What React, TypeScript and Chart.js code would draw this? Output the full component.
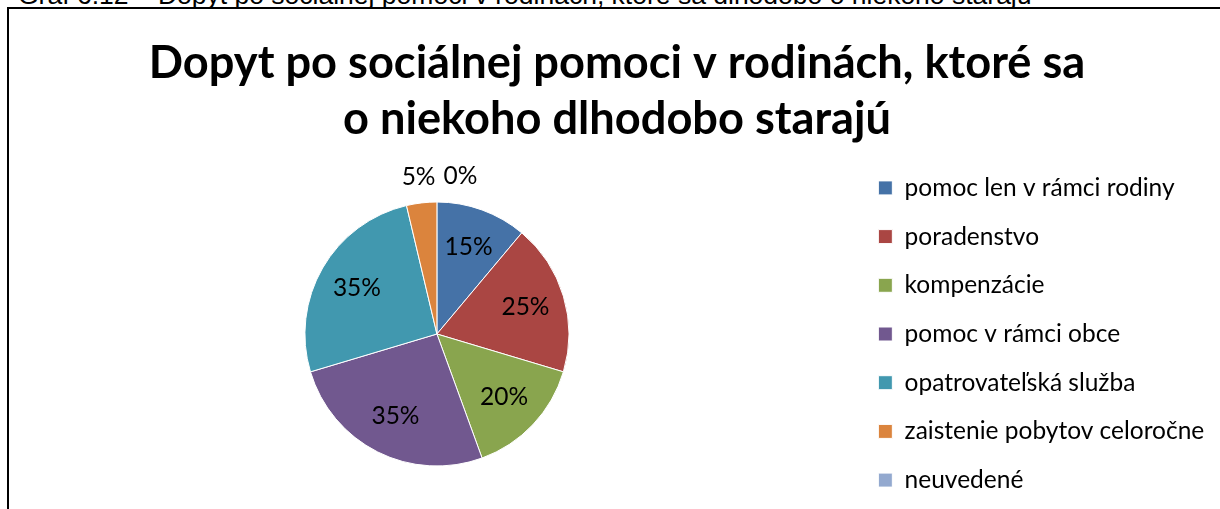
import React, { useEffect, useRef } from "react";
import { Chart, registerables } from "chart.js";

Chart.register(...registerables);

const CAPTION = "Graf 6.12 – Dopyt po sociálnej pomoci v rodinách, ktoré sa dlhodobo o niekoho starajú";
const TITLE_LINES = ["Dopyt po sociálnej pomoci v rodinách, ktoré sa", "o niekoho dlhodobo starajú"];
const categories = [
  "pomoc len v rámci rodiny",
  "poradenstvo",
  "kompenzácie",
  "pomoc v rámci obce",
  "opatrovateľská služba",
  "zaistenie pobytov celoročne",
  "neuvedené",
];
const values = [15, 25, 20, 35, 35, 5, 0];
const colors = ["#4572A7", "#AA4643", "#89A54E", "#71588F", "#4198AF", "#DB843D", "#93A9CF"];

const FONT = "Lato, 'Open Sans', sans-serif";

const labelPlugin = {
  id: "sliceLabels",
  afterDatasetsDraw(chart: any) {
    const ctx = chart.ctx as CanvasRenderingContext2D;
    const meta = chart.getDatasetMeta(0);
    const data = chart.data.datasets[0].data as number[];
    const total = data.reduce((a, b) => a + b, 0);
    ctx.save();
    ctx.font = `24.5px ${FONT}`;
    ctx.fillStyle = "#000";
    ctx.textAlign = "center";
    ctx.textBaseline = "middle";
    const outside: { text: string; x: number; y: number; w: number }[] = [];
    meta.data.forEach((arc: any, i: number) => {
      const { x, y, startAngle, endAngle, outerRadius } = arc.getProps(
        ["x", "y", "startAngle", "endAngle", "outerRadius"],
        true
      );
      const mid = (startAngle + endAngle) / 2;
      const text = data[i] + "%";
      const share = data[i] / total;
      if (share >= 0.07) {
        const r = outerRadius * 0.7;
        ctx.fillText(text, x + Math.cos(mid) * r, y + Math.sin(mid) * r);
      } else {
        const r = outerRadius + 26;
        outside.push({ text, x: x + Math.cos(mid) * r, y: y + Math.sin(mid) * r, w: ctx.measureText(text).width });
      }
    });
    outside.sort((p, q) => p.x - q.x);
    for (let k = 1; k < outside.length; k++) {
      const prev = outside[k - 1];
      const cur = outside[k];
      const minX = prev.x + prev.w / 2 + 8 + cur.w / 2;
      if (cur.x < minX) cur.x = minX;
    }
    outside.forEach((o) => ctx.fillText(o.text, o.x, o.y));
    ctx.restore();
  },
};

export default function App() {
  const ref = useRef<HTMLCanvasElement>(null);
  useEffect(() => {
    const chart = new Chart(ref.current!, {
      type: "pie",
      data: {
        labels: categories,
        datasets: [
          {
            data: values,
            backgroundColor: colors,
            borderColor: "#ffffff",
            borderWidth: 1,
            radius: 132,
          } as any,
        ],
      },
      options: {
        responsive: false,
        animation: false,
        layout: { padding: { left: 10.7, right: 14.7, top: 0, bottom: 19 } },
        plugins: {
          title: {
            display: true,
            text: TITLE_LINES,
            color: "#000",
            font: { family: FONT, size: 45.2, weight: "bold", lineHeight: 56 / 45.2 },
            padding: { top: 26, bottom: 1 },
          },
          legend: {
            position: "right",
            fullSize: false,
            align: "center",
            labels: {
              color: "#000",
              font: { family: FONT, size: 24.5 },
              boxWidth: 14,
              boxHeight: 14,
              padding: 24.2,
            },
          },
          tooltip: { enabled: false },
        },
      } as any,
      plugins: [labelPlugin],
    });
    return () => chart.destroy();
  }, []);

  return (
    <div
      style={{
        position: "fixed",
        left: 0,
        top: 0,
        width: 1220,
        height: 509,
        overflow: "hidden",
        background: "#fff",
      }}
    >
      <div
        style={{
          position: "absolute",
          left: 18,
          top: -18,
          fontFamily: "'Liberation Sans', Arial, sans-serif",
          fontSize: 26.5,
          lineHeight: "26px",
          whiteSpace: "nowrap",
          color: "#000",
        }}
      >
        {CAPTION}
      </div>
      <div
        style={{
          position: "absolute",
          left: 7,
          top: 7,
          width: 1400,
          height: 700,
          border: "2px solid #000",
          boxSizing: "border-box",
        }}
      />
      <canvas ref={ref} width={1220} height={530} style={{ position: "absolute", left: 9, top: 9 }} />
    </div>
  );
}
